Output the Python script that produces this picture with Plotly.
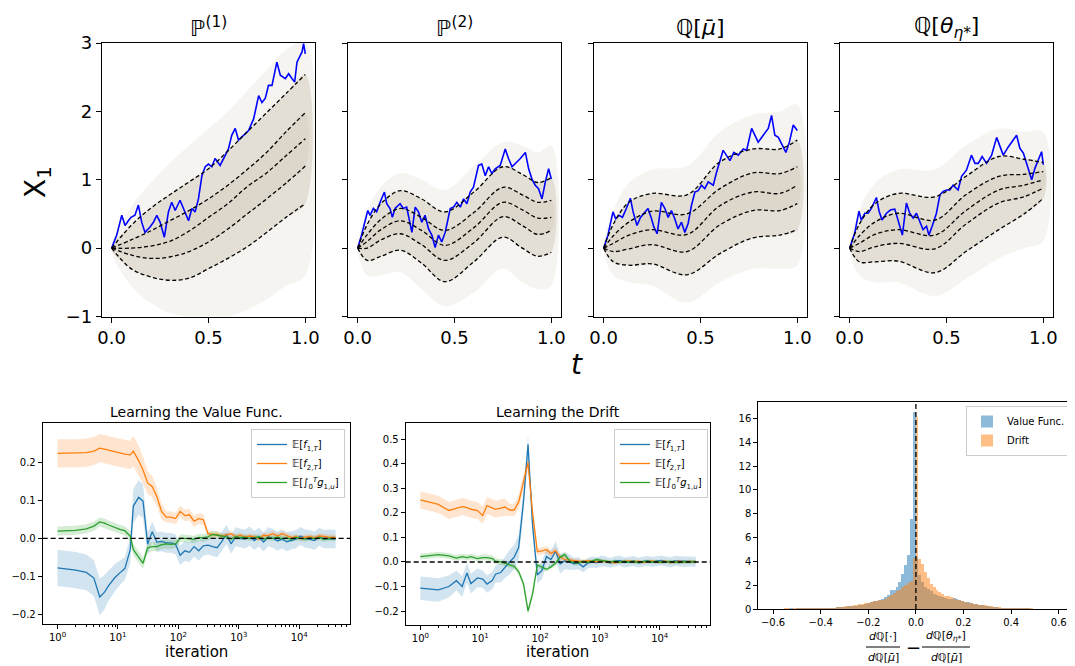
import plotly.graph_objects as go

# ---------------- data: top row (sample paths) ----------------
T1 = [0, .1, .2, .3, .4, .5, .6, .7, .8, .9, 1.0]
P1_q95 = [0, 0.33, 0.58, 0.78, 0.97, 1.16, 1.42, 1.7, 1.98, 2.26, 2.54]
P1_q75 = [0, 0.12, 0.25, 0.4, 0.55, 0.72, 0.92, 1.15, 1.4, 1.7, 1.98]
P1_q50 = [0, 0.0, 0.03, 0.1, 0.25, 0.45, 0.65, 0.9, 1.1, 1.35, 1.6]
P1_q25 = [0, -0.1, -0.15, -0.13, -0.05, 0.09, 0.28, 0.5, 0.72, 0.95, 1.2]
P1_q05 = [0, -0.3, -0.42, -0.47, -0.44, -0.3, -0.15, 0.02, 0.23, 0.45, 0.65]
P1_env_hi = [0, 0.6, 0.95, 1.25, 1.5, 1.75, 2.0, 2.3, 2.6, 2.9, 3.0]
P1_env_lo = [0, -0.55, -0.8, -0.95, -1.0, -1.0, -1.0, -0.9, -0.75, -0.55, -0.4]

T2 = [0, 0.05, 0.12, 0.22, 0.33, 0.45, 0.6, 0.75, 0.85, 0.93, 1.0]
P2_q95 = [0, 0.35, 0.65, 0.84, 0.72, 0.53, 0.82, 1.19, 1.08, 0.96, 1.03]
P2_q75 = [0, 0.2, 0.42, 0.58, 0.45, 0.26, 0.52, 0.89, 0.78, 0.67, 0.70]
P2_q50 = [0, 0.1, 0.27, 0.40, 0.26, 0.04, 0.3, 0.67, 0.56, 0.44, 0.45]
P2_q25 = [0, 0.0, 0.12, 0.21, 0.05, -0.18, 0.08, 0.46, 0.33, 0.2, 0.26]
P2_q05 = [0, -0.18, -0.12, -0.03, -0.22, -0.49, -0.2, 0.16, 0.0, -0.12, -0.06]
P2_env_hi = [0, 0.55, 0.9, 1.1, 1.0, 0.85, 1.2, 1.55, 1.5, 1.4, 1.5]
P2_env_lo = [0, -0.4, -0.4, -0.35, -0.6, -0.85, -0.65, -0.3, -0.5, -0.6, -0.55]

T3 = [0, 0.05, 0.13, 0.25, 0.43, 0.6, 0.77, 0.91, 1.0]
P3_q95 = [0, 0.35, 0.67, 0.80, 0.78, 1.26, 1.45, 1.45, 1.58]
P3_q75 = [0, 0.18, 0.38, 0.54, 0.50, 0.87, 1.10, 1.09, 1.19]
P3_q50 = [0, 0.07, 0.19, 0.27, 0.20, 0.62, 0.82, 0.80, 0.92]
P3_q25 = [0, -0.05, -0.01, 0.05, -0.05, 0.34, 0.55, 0.55, 0.65]
P3_q05 = [0, -0.2, -0.25, -0.23, -0.39, -0.08, 0.15, 0.19, 0.27]
P3_env_hi = [0, 0.55, 0.95, 1.15, 1.2, 1.7, 1.95, 2.0, 2.1]
P3_env_lo = [0, -0.4, -0.5, -0.55, -0.8, -0.5, -0.3, -0.3, -0.25]

T4 = [0, 0.05, 0.13, 0.25, 0.44, 0.6, 0.77, 0.9, 1.0]
P4_q95 = [0, 0.35, 0.65, 0.80, 0.75, 1.05, 1.34, 1.3, 1.25]
P4_q75 = [0, 0.18, 0.38, 0.51, 0.41, 0.78, 1.05, 1.08, 1.12]
P4_q50 = [0, 0.07, 0.2, 0.27, 0.19, 0.55, 0.85, 0.92, 1.0]
P4_q25 = [0, -0.05, 0.02, 0.07, -0.01, 0.35, 0.66, 0.75, 0.88]
P4_q05 = [0, -0.2, -0.2, -0.19, -0.36, -0.05, 0.27, 0.5, 0.73]
P4_env_hi = [0, 0.55, 0.95, 1.15, 1.15, 1.5, 1.75, 1.7, 1.7]
P4_env_lo = [0, -0.4, -0.5, -0.5, -0.7, -0.45, -0.15, 0.0, 0.1]

P1_path_t = [0, .026, .052, .069, .086, .10, .12, .138, .155, .172, .198, .216, .233, .25, .272, .293, .31, .328, .353, .379,
             .397, .414, .431, .448, .466, .483, .5, .517, .534, .56, .586, .603, .62, .638, .655, .681, .707, .733, .759, .776,
             .793, .81, .828, .853, .871, .897, .914, .931, .945, .957, .983, .991, 1.0]
P1_path_x = [0, .19, .48, .33, .40, .45, .48, .63, .38, .23, .31, .38, .48, .38, .16, .53, .67, .55, .70, .53,
             .40, .58, .53, .72, 1.06, 1.19, 1.23, 1.19, 1.31, 1.21, 1.36, 1.45, 1.65, 1.75, 1.58, 1.65, 1.72, 1.89, 2.23, 2.13,
             2.19, 2.38, 2.38, 2.72, 2.53, 2.48, 2.55, 2.48, 2.43, 2.72, 2.87, 2.99, 2.84]
P2_path_t = [0, .02, .052, .064, .081, .098, .116, .138, .15, .167, .179, .193, .219, .236, .253, .266, .28, .297, .314, .331,
             .348, .366, .383, .4, .417, .434, .452, .478, .495, .512, .53, .547, .564, .581, .598, .624, .641, .659, .676, .693,
             .71, .736, .762, .779, .797, .822, .84, .866, .883, .9, .917, .934, .952, .969, .986, 1.0]
P2_path_x = [0, .19, .55, .48, .58, .53, .67, .82, .65, .58, .45, .58, .65, .58, .60, .43, .23, .60, .53, .38,
             .48, .28, .19, .01, .19, .09, .23, .58, .60, .67, .60, .72, .65, .82, .89, 1.21, 1.23, 1.06, 1.19, 1.09,
             1.16, 1.21, 1.45, 1.31, 1.19, 1.26, 1.31, 1.40, 1.16, 1.01, .92, .87, .72, .97, 1.16, 1.01]
P3_path_t = [0, .022, .048, .062, .079, .097, .117, .138, .152, .172, .19, .212, .229, .247, .259, .276, .298, .316, .333, .35,
             .367, .384, .402, .419, .436, .453, .471, .488, .505, .522, .54, .566, .583, .617, .634, .652, .672, .695, .721, .738,
             .764, .781, .798, .824, .85, .867, .884, .902, .919, .941, .959, .979, 1.0]
P3_path_x = [0, .19, .53, .43, .48, .45, .58, .73, .53, .33, .45, .53, .58, .43, .31, .21, .67, .58, .45, .55,
             .43, .28, .38, .23, .36, .62, .82, .84, .92, .87, .97, .92, 1.11, 1.43, 1.35, 1.28, 1.40, 1.36, 1.45, 1.43,
             1.75, 1.65, 1.55, 1.65, 1.75, 1.94, 1.65, 1.62, 1.53, 1.40, 1.55, 1.80, 1.72]
P4_path_t = [0, .026, .048, .06, .078, .095, .112, .138, .152, .167, .19, .212, .233, .25, .272, .293, .31, .328, .345, .362,
             .379, .397, .409, .426, .448, .466, .483, .5, .517, .534, .56, .578, .603, .629, .647, .664, .684, .707, .733, .759,
             .776, .793, .819, .845, .862, .879, .897, .919, .94, .957, .978, .991, 1.0]
P4_path_x = [0, .22, .54, .41, .51, .51, .58, .74, .54, .41, .51, .56, .57, .41, .19, .66, .51, .44, .51, .39,
             .27, .32, .19, .32, .51, .78, .83, .85, .85, .92, .85, 1.05, 1.14, 1.36, 1.24, 1.24, 1.34, 1.24, 1.36, 1.62,
             1.48, 1.36, 1.48, 1.58, 1.65, 1.46, 1.39, 1.19, 1.0, 1.17, 1.31, 1.41, 1.22]

TOP_TITLES = ["ℙ<sup>(1)</sup>", "ℙ<sup>(2)</sup>", "ℚ[<i>μ̄</i>]", "ℚ[<i>θ</i><sub><i>η</i>*</sub>]"]
TOP_XTICKS = [0.0, 0.5, 1.0]
TOP_YTICKS = [-1, 0, 1, 2, 3]

# ---------------- data: learning curves ----------------
ITER = [1, 2, 3, 4, 5, 6, 7, 9, 11, 13, 16, 18, 22, 26, 31, 37, 44, 53, 63, 75,
        90, 107, 128, 152, 182, 217, 259, 309, 368, 439, 524, 625, 746, 890, 1062, 1267, 1512, 1804, 2153, 2569,
        3066, 3659, 4366, 5210, 6217, 7419, 8853, 10565, 12607, 15044, 17952, 21423, 25564, 30506, 40000]

VF_f1 = [-0.078, -0.084, -0.09, -0.105, -0.155, -0.142, -0.125, -0.103, -0.09, -0.08,
         -0.03, 0.085, 0.108, 0.098, -0.015, 0.017, -0.01, -0.008, -0.012, -0.012,
         -0.016, -0.045, -0.033, -0.037, -0.022, -0.033, -0.02, -0.018, -0.022, -0.025,
         -0.008, 0.01, -0.015, 0.004, 0.0, -0.002, 0.006, -0.006, 0.003, -0.01,
         0.004, 0.0, -0.007, -0.002, -0.009, -0.005, -0.002, 0.006, -0.001, -0.003,
         -0.006, 0.004, -0.002, -0.001, -0.002]
VF_f1_sd = [0.048, 0.048, 0.047, 0.047, 0.048, 0.045, 0.04, 0.036, 0.032, 0.03,
            0.035, 0.045, 0.045, 0.045, 0.03, 0.026, 0.026, 0.026, 0.026, 0.026,
            0.026, 0.026, 0.026, 0.026, 0.026, 0.026, 0.026, 0.025, 0.025, 0.025,
            0.025, 0.025, 0.025, 0.025, 0.025, 0.025, 0.025, 0.025, 0.025, 0.025,
            0.025, 0.025, 0.025, 0.025, 0.025, 0.024, 0.024, 0.024, 0.024, 0.024,
            0.024, 0.024, 0.024, 0.024, 0.024]
VF_f2 = [0.224, 0.224, 0.226, 0.23, 0.238, 0.235, 0.232, 0.228, 0.225, 0.222,
         0.22, 0.23, 0.205, 0.18, 0.146, 0.136, 0.11, 0.07, 0.056, 0.056,
         0.052, 0.071, 0.06, 0.062, 0.045, 0.052, 0.049, 0.012, 0.01, 0.01,
         0.006, 0.008, 0.012, 0.004, 0.008, 0.003, 0.006, 0.004, -0.002, 0.008,
         0.007, 0.012, 0.006, 0.012, 0.008, 0.002, 0.004, 0.0, 0.003, 0.004,
         0.001, 0.006, 0.005, 0.003, 0.002]
VF_f2_sd = [0.037, 0.037, 0.037, 0.037, 0.037, 0.037, 0.037, 0.037, 0.037, 0.037,
            0.037, 0.04, 0.04, 0.035, 0.03, 0.028, 0.025, 0.02, 0.015, 0.015,
            0.015, 0.015, 0.015, 0.015, 0.015, 0.014, 0.014, 0.01, 0.008, 0.008,
            0.007, 0.007, 0.007, 0.007, 0.007, 0.007, 0.007, 0.007, 0.007, 0.007,
            0.007, 0.007, 0.007, 0.007, 0.007, 0.007, 0.007, 0.007, 0.007, 0.007,
            0.007, 0.007, 0.007, 0.007, 0.007]
VF_g = [0.019, 0.021, 0.025, 0.032, 0.043, 0.04, 0.035, 0.028, 0.023, 0.02,
        0.005, -0.03, -0.05, -0.066, -0.025, -0.022, -0.022, -0.017, -0.015, -0.016,
        -0.015, 0.0, 0.0, -0.002, -0.003, 0.002, 0.001, 0.004, 0.01, 0.008,
        0.005, 0.004, -0.002, 0.004, 0.002, 0.003, -0.001, 0.002, 0.004, -0.002,
        0.002, 0.0, 0.003, -0.001, 0.001, -0.003, 0.002, 0.0, -0.002, 0.001,
        -0.001, 0.002, -0.003, 0.0, -0.001]
VF_g_sd = [0.012, 0.012, 0.012, 0.012, 0.012, 0.012, 0.012, 0.012, 0.012, 0.012,
           0.015, 0.015, 0.015, 0.015, 0.013, 0.012, 0.012, 0.012, 0.012, 0.012,
           0.01, 0.01, 0.01, 0.01, 0.01, 0.01, 0.01, 0.01, 0.01, 0.01,
           0.007, 0.007, 0.007, 0.007, 0.007, 0.007, 0.007, 0.007, 0.007, 0.007,
           0.007, 0.007, 0.007, 0.007, 0.007, 0.007, 0.007, 0.007, 0.007, 0.007,
           0.007, 0.007, 0.007, 0.007, 0.007]

DR_f1 = [-0.107, -0.114, -0.1, -0.076, -0.1, -0.045, -0.088, -0.065, -0.07, -0.09,
         -0.075, -0.05, -0.043, -0.02, 0.0, 0.02, 0.06, 0.25, 0.48, 0.15,
         -0.053, -0.035, 0.022, 0.01, 0.045, -0.008, 0.005, 0.0, -0.008, -0.005,
         -0.02, -0.005, 0.0, -0.003, 0.004, 0.002, -0.004, 0.003, 0.006, -0.002,
         0.001, 0.004, -0.003, 0.002, 0.005, 0.0, 0.003, 0.006, 0.002, -0.001,
         0.004, 0.003, 0.0, 0.002, 0.001]
DR_f1_sd = [0.048, 0.048, 0.045, 0.04, 0.042, 0.04, 0.04, 0.038, 0.035, 0.035,
            0.035, 0.035, 0.04, 0.045, 0.05, 0.05, 0.05, 0.045, 0.04, 0.04,
            0.035, 0.035, 0.035, 0.035, 0.04, 0.04, 0.035, 0.03, 0.025, 0.025,
            0.022, 0.022, 0.022, 0.022, 0.022, 0.02, 0.02, 0.02, 0.02, 0.02,
            0.02, 0.02, 0.02, 0.02, 0.02, 0.02, 0.02, 0.02, 0.02, 0.02,
            0.02, 0.02, 0.02, 0.02, 0.02]
DR_f2 = [0.253, 0.235, 0.21, 0.22, 0.226, 0.222, 0.215, 0.21, 0.19, 0.23,
         0.222, 0.215, 0.22, 0.224, 0.212, 0.212, 0.245, 0.33, 0.405, 0.2,
         0.042, 0.045, 0.05, 0.035, 0.045, 0.02, 0.01, 0.008, 0.004, 0.003,
         0.002, 0.005, 0.003, 0.001, 0.004, 0.002, -0.002, -0.003, 0.0, 0.002,
         0.004, 0.001, 0.003, -0.001, 0.002, 0.004, 0.0, 0.002, 0.003, -0.002,
         0.001, 0.003, 0.0, 0.002, 0.001]
DR_f2_sd = [0.035, 0.035, 0.035, 0.035, 0.035, 0.035, 0.035, 0.035, 0.035, 0.035,
            0.035, 0.035, 0.035, 0.035, 0.025, 0.025, 0.03, 0.03, 0.03, 0.03,
            0.015, 0.015, 0.015, 0.015, 0.015, 0.012, 0.01, 0.008, 0.008, 0.008,
            0.007, 0.007, 0.007, 0.007, 0.007, 0.007, 0.007, 0.007, 0.007, 0.007,
            0.007, 0.007, 0.007, 0.007, 0.007, 0.007, 0.007, 0.007, 0.007, 0.007,
            0.007, 0.007, 0.007, 0.007, 0.007]
DR_g = [0.022, 0.03, 0.025, 0.016, 0.022, 0.018, 0.022, 0.014, 0.018, 0.018,
        0.014, 0.003, 0.0, -0.005, -0.01, -0.018, -0.04, -0.09, -0.2, -0.13,
        -0.012, -0.02, -0.03, -0.02, -0.005, 0.02, 0.03, 0.005, -0.003, -0.005,
        0.003, -0.002, 0.004, 0.01, 0.006, 0.002, 0.0, 0.004, -0.001, 0.003,
        0.0, 0.002, -0.002, 0.001, 0.003, 0.0, 0.002, -0.001, 0.001, 0.002,
        0.0, -0.002, 0.001, 0.0, 0.002]
DR_g_sd = [0.012, 0.012, 0.012, 0.012, 0.012, 0.012, 0.012, 0.012, 0.012, 0.012,
           0.012, 0.012, 0.012, 0.012, 0.012, 0.012, 0.012, 0.015, 0.015, 0.015,
           0.01, 0.01, 0.01, 0.01, 0.01, 0.01, 0.01, 0.01, 0.01, 0.01,
           0.007, 0.007, 0.007, 0.007, 0.007, 0.007, 0.007, 0.007, 0.007, 0.007,
           0.007, 0.007, 0.007, 0.007, 0.007, 0.007, 0.007, 0.007, 0.007, 0.007,
           0.007, 0.007, 0.007, 0.007, 0.007]

LEG_NAMES = ["𝔼[<i>f</i><sub>1,<i>T</i></sub>]", "𝔼[<i>f</i><sub>2,<i>T</i></sub>]",
             "𝔼[∫<sub>0</sub><sup><i>T</i></sup><i>g</i><sub>1,<i>u</i></sub>]"]

# ---------------- data: histogram ----------------
HIST_EDGE0 = -0.6
HIST_BINW = 0.012
HIST_VF = [0.01, 0.01, 0.02, 0.01, 0.02, 0.02, 0.03, 0.02, 0.03, 0.03,
           0.04, 0.03, 0.05, 0.04, 0.05, 0.06, 0.07, 0.08, 0.09, 0.11,
           0.12, 0.14, 0.16, 0.17, 0.19, 0.21, 0.24, 0.26, 0.28, 0.31,
           0.34, 0.38, 0.44, 0.5, 0.6, 0.67, 0.7, 0.75, 0.9, 1.0,
           1.2, 1.6, 1.6, 1.9, 2.3, 3.0, 3.7, 4.6, 7.6, 16.6,
           4.4, 2.9, 2.3, 1.9, 1.7, 1.5, 1.3, 1.2, 1.1, 1.0,
           0.95, 0.9, 0.9, 0.95, 0.85, 0.75, 0.7, 0.65, 0.6, 0.55,
           0.45, 0.42, 0.38, 0.33, 0.3, 0.26, 0.22, 0.2, 0.17, 0.14,
           0.12, 0.1, 0.08, 0.07, 0.06, 0.05, 0.04, 0.04, 0.03, 0.03,
           0.02, 0.02, 0.02, 0.01, 0.01, 0.01, 0.01, 0.0, 0.01, 0.0]
HIST_DR = [0.01, 0.02, 0.01, 0.02, 0.03, 0.03, 0.02, 0.03, 0.04, 0.03,
           0.04, 0.05, 0.04, 0.05, 0.06, 0.07, 0.07, 0.08, 0.1, 0.11,
           0.13, 0.15, 0.17, 0.19, 0.22, 0.25, 0.28, 0.31, 0.35, 0.39,
           0.43, 0.47, 0.52, 0.56, 0.62, 0.68, 0.73, 0.78, 0.82, 0.9,
           1.05, 1.2, 1.35, 1.5, 1.65, 1.85, 2.0, 2.2, 2.4, 4.3,
           16.1, 4.25, 3.8, 3.1, 2.6, 2.15, 1.9, 1.65, 1.45, 1.25,
           1.15, 1.1, 1.0, 0.9, 0.8, 0.75, 0.7, 0.6, 0.55, 0.5,
           0.45, 0.42, 0.38, 0.35, 0.32, 0.28, 0.25, 0.22, 0.19, 0.16,
           0.14, 0.12, 0.1, 0.09, 0.08, 0.06, 0.05, 0.05, 0.04, 0.03,
           0.03, 0.02, 0.02, 0.02, 0.01, 0.01, 0.01, 0.01, 0.0, 0.0]
HIST_NAMES = ["Value Func.", "Drift"]

# ---------------- figure ----------------
# the page body has an 8px default margin, so the figure sits at (8, 8)
OFF = 8
W, H = 1067, 658
FONT = "DejaVu Sans"
C_BLUE, C_ORANGE, C_GREEN = "#1f77b4", "#ff7f0e", "#2ca02c"

def fx(px):
    return (px - OFF) / W

def fy(py):
    return 1 - (py - OFF) / H

def dx(a, b):
    return [max(0, fx(a)), min(1, fx(b))]

def dy(top, bottom):
    return [max(0, fy(bottom)), min(1, fy(top))]

fig = go.Figure()

top_panels = [
    (T1, P1_q95, P1_q75, P1_q50, P1_q25, P1_q05, P1_env_hi, P1_env_lo, P1_path_t, P1_path_x),
    (T2, P2_q95, P2_q75, P2_q50, P2_q25, P2_q05, P2_env_hi, P2_env_lo, P2_path_t, P2_path_x),
    (T3, P3_q95, P3_q75, P3_q50, P3_q25, P3_q05, P3_env_hi, P3_env_lo, P3_path_t, P3_path_x),
    (T4, P4_q95, P4_q75, P4_q50, P4_q25, P4_q05, P4_env_hi, P4_env_lo, P4_path_t, P4_path_x),
]
top_x_px = [(102, 315), (348, 561), (594, 807), (840, 1053)]
top_y_px = (43, 316.5)

for k, (T, q95, q75, q50, q25, q05, ehi, elo, pt, px) in enumerate(top_panels):
    xa = "x" if k == 0 else f"x{k+1}"
    ya = "y" if k == 0 else f"y{k+1}"
    fig.add_trace(go.Scatter(x=T + T[::-1], y=ehi + elo[::-1], fill="toself", mode="lines",
                             line=dict(width=0, shape="spline"), fillcolor="rgba(195,185,170,0.16)",
                             hoverinfo="skip", showlegend=False, xaxis=xa, yaxis=ya))
    fig.add_trace(go.Scatter(x=T + T[::-1], y=q95 + q05[::-1], fill="toself", mode="lines",
                             line=dict(width=0, shape="spline"), fillcolor="rgba(180,158,130,0.25)",
                             hoverinfo="skip", showlegend=False, xaxis=xa, yaxis=ya))
    fig.add_trace(go.Scatter(x=T + T[::-1], y=q75 + q25[::-1], fill="toself", mode="lines",
                             line=dict(width=0, shape="spline"), fillcolor="rgba(165,135,105,0.10)",
                             hoverinfo="skip", showlegend=False, xaxis=xa, yaxis=ya))
    fig.add_trace(go.Scatter(x=pt, y=px, mode="lines", line=dict(color="#0000ff", width=1.6),
                             showlegend=False, xaxis=xa, yaxis=ya))
    for q in (q95, q75, q50, q25, q05):
        fig.add_trace(go.Scatter(x=T, y=q, mode="lines",
                                 line=dict(color="black", width=1.3, dash="4px,2.5px", shape="spline"),
                                 showlegend=False, xaxis=xa, yaxis=ya))

    axx = dict(domain=dx(*top_x_px[k]), range=[-0.05, 1.05], tickvals=TOP_XTICKS, tickformat=".1f",
               ticks="outside", ticklen=5, tickwidth=1.2, tickcolor="black",
               showline=True, mirror=True, linecolor="black", linewidth=1.2,
               showgrid=False, zeroline=False, anchor=ya,
               tickfont=dict(size=18, color="black", family=FONT))
    axy = dict(domain=dy(*top_y_px), range=[-1, 3], tickvals=TOP_YTICKS,
               ticks="outside", ticklen=5, tickwidth=1.2, tickcolor="black",
               showline=True, mirror=True, linecolor="black", linewidth=1.2,
               showgrid=False, zeroline=False, anchor=xa, showticklabels=(k == 0),
               tickfont=dict(size=18, color="black", family=FONT))
    fig.layout["xaxis" if k == 0 else f"xaxis{k+1}"] = axx
    fig.layout["yaxis" if k == 0 else f"yaxis{k+1}"] = axy

def add_curves(series, xa, ya, legend):
    for (mean, sd, col, name) in series:
        up = [m + s for m, s in zip(mean, sd)]
        lo = [m - s for m, s in zip(mean, sd)]
        fig.add_trace(go.Scatter(x=ITER + ITER[::-1], y=up + lo[::-1], fill="toself", mode="lines",
                                 line=dict(width=0), fillcolor=col, opacity=0.2, hoverinfo="skip",
                                 showlegend=False, xaxis=xa, yaxis=ya))
    for (mean, sd, col, name) in series:
        fig.add_trace(go.Scatter(x=ITER, y=mean, mode="lines", line=dict(color=col, width=1.3),
                                 name=name, legend=legend, xaxis=xa, yaxis=ya))

add_curves([(VF_f1, VF_f1_sd, C_BLUE, LEG_NAMES[0]), (VF_f2, VF_f2_sd, C_ORANGE, LEG_NAMES[1]),
            (VF_g, VF_g_sd, C_GREEN, LEG_NAMES[2])], "x5", "y5", "legend")
add_curves([(DR_f1, DR_f1_sd, C_BLUE, LEG_NAMES[0]), (DR_f2, DR_f2_sd, C_ORANGE, LEG_NAMES[1]),
            (DR_g, DR_g_sd, C_GREEN, LEG_NAMES[2])], "x6", "y6", "legend2")

minor_vals = [m * 10 ** e for e in range(0, 5) for m in range(2, 10)]
log_ticks = [1, 10, 100, 1000, 10000]
log_text = [f"10<sup>{e}</sup>" for e in range(5)]

def log_axis(dom, anchor):
    return dict(domain=dom, type="log", range=[-0.245, 4.84], tickvals=log_ticks, ticktext=log_text,
                ticks="outside", ticklen=4, tickwidth=1, tickcolor="black",
                minor=dict(tickvals=minor_vals, ticks="outside", ticklen=2, tickwidth=0.8, tickcolor="black"),
                showline=True, mirror=True, linecolor="black", linewidth=1,
                showgrid=False, zeroline=False, anchor=anchor,
                tickfont=dict(size=10, color="black", family=FONT))

fig.layout["xaxis5"] = log_axis(dx(42.7, 350), "y5")
fig.layout["xaxis6"] = log_axis(dx(405.7, 710), "y6")
fig.layout["yaxis5"] = dict(domain=dy(422.7, 624.3), range=[-0.227, 0.305], tickvals=[-0.2, -0.1, 0.0, 0.1, 0.2],
                            tickformat=".1f", ticks="outside", ticklen=4, tickwidth=1, tickcolor="black",
                            showline=True, mirror=True, linecolor="black", linewidth=1,
                            showgrid=False, zeroline=False, anchor="x5",
                            tickfont=dict(size=10, color="black", family=FONT))
fig.layout["yaxis6"] = dict(domain=dy(422.7, 625), range=[-0.257, 0.568],
                            tickvals=[-0.2, -0.1, 0.0, 0.1, 0.2, 0.3, 0.4, 0.5],
                            tickformat=".1f", ticks="outside", ticklen=4, tickwidth=1, tickcolor="black",
                            showline=True, mirror=True, linecolor="black", linewidth=1,
                            showgrid=False, zeroline=False, anchor="x6",
                            tickfont=dict(size=10, color="black", family=FONT))

centers = [HIST_EDGE0 + HIST_BINW * (i + 0.5) for i in range(len(HIST_VF))]
fig.add_trace(go.Bar(x=centers, y=HIST_VF, width=HIST_BINW, marker=dict(color=C_BLUE, line=dict(width=0)),
                     opacity=0.5, name=HIST_NAMES[0], legend="legend3", xaxis="x7", yaxis="y7"))
fig.add_trace(go.Bar(x=centers, y=HIST_DR, width=HIST_BINW, marker=dict(color=C_ORANGE, line=dict(width=0)),
                     opacity=0.5, name=HIST_NAMES[1], legend="legend3", xaxis="x7", yaxis="y7"))
fig.layout["xaxis7"] = dict(domain=dx(758.3, 1073), range=[-0.662, 0.66],
                            tickvals=[-0.6, -0.4, -0.2, 0.0, 0.2, 0.4, 0.6], tickformat=".1f",
                            ticks="outside", ticklen=4, tickwidth=1, tickcolor="black",
                            showline=True, mirror=True, linecolor="black", linewidth=1,
                            showgrid=False, zeroline=False, anchor="y7",
                            tickfont=dict(size=10, color="black", family=FONT))
fig.layout["yaxis7"] = dict(domain=dy(401.7, 609), range=[0, 17.4], tickvals=list(range(0, 17, 2)),
                            ticks="outside", ticklen=4, tickwidth=1, tickcolor="black",
                            showline=True, mirror=True, linecolor="black", linewidth=1,
                            showgrid=False, zeroline=False, anchor="x7",
                            tickfont=dict(size=10, color="black", family=FONT))

shapes = [
    dict(type="line", xref="x5 domain", yref="y5", x0=0, x1=1, y0=0, y1=0,
         line=dict(color="black", width=1.3, dash="5px,3px")),
    dict(type="line", xref="x6 domain", yref="y6", x0=0, x1=1, y0=0, y1=0,
         line=dict(color="black", width=1.3, dash="5px,3px")),
    dict(type="line", xref="x7", yref="y7 domain", x0=0, x1=0, y0=0, y1=1,
         line=dict(color="black", width=1.3, dash="5px,3px")),
    dict(type="line", xref="paper", yref="paper", x0=fx(866), x1=fx(900), y0=fy(647), y1=fy(647),
         line=dict(color="black", width=1.2)),
    dict(type="line", xref="paper", yref="paper", x0=fx(922), x1=fx(970), y0=fy(647), y1=fy(647),
         line=dict(color="black", width=1.2)),
]

ann = []
def add_text(text, x, y, size, **kw):
    ann.append(dict(text=text, x=fx(x), y=fy(y), xref="paper", yref="paper", showarrow=False,
                    font=dict(size=size, color="black", family=FONT), xanchor="center", yanchor="middle", **kw))

for k, (a, b) in enumerate(top_x_px):
    add_text(TOP_TITLES[k], (a + b) / 2, 27, 22)
add_text("<i>t</i>", 577, 364, 28)
add_text("X<sub>1</sub>", 38, 182, 28, textangle=-90)
add_text("Learning the Value Func.", 196, 412, 14)
add_text("Learning the Drift", 558, 412, 14)
add_text("iteration", 196, 652, 15)
add_text("iteration", 558, 652, 15)
add_text("<i>d</i>ℚ[·]", 883, 636, 11)
add_text("<i>d</i>ℚ[<i>μ̄</i>]", 883, 657, 11)
add_text("−", 913, 647, 18)
add_text("<i>d</i>ℚ[<i>θ</i><sub><i>η</i>*</sub>]", 946, 636, 11)
add_text("<i>d</i>ℚ[<i>μ̄</i>]", 946, 657, 11)

legend_common = dict(bgcolor="rgba(255,255,255,0.8)", bordercolor="#cccccc", borderwidth=1,
                     font=dict(size=10, color="black", family=FONT), xanchor="right", yanchor="top",
                     itemwidth=30, tracegroupgap=0)

fig.update_layout(
    width=W, height=H, margin=dict(l=0, r=0, t=0, b=0, pad=0, autoexpand=False),
    paper_bgcolor="white", plot_bgcolor="white",
    font=dict(family=FONT, color="black"),
    barmode="overlay", bargap=0,
    shapes=shapes, annotations=ann,
    legend=dict(x=fx(345), y=fy(429), **legend_common),
    legend2=dict(x=fx(708), y=fy(429), **legend_common),
    legend3=dict(x=fx(1071), y=fy(406), **legend_common),
)

fig.write_html("out.html")
